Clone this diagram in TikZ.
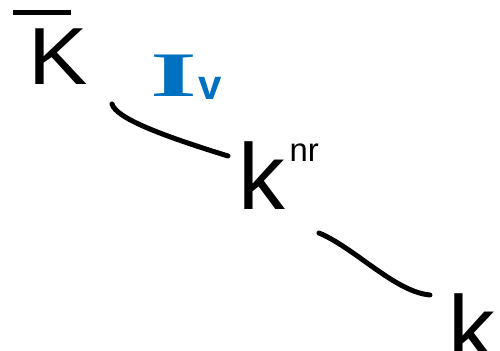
\documentclass[tikz,border=0pt]{standalone}
\usepackage{fontspec}
\usepackage{graphicx}
\setmainfont{Liberation Sans}
\newfontfamily\serifI{Liberation Serif}
\definecolor{inkblue}{RGB}{0,112,192}
\tikzset{
  pen/.style={line width=2.5pt, line cap=round, line join=round, black},
  lbl/.style={inner sep=0pt, outer sep=0pt, anchor=base west},
}
\begin{document}
\begin{tikzpicture}[x=0.5pt, y=-0.5pt]
\useasboundingbox (0,0) rectangle (500,351);
% field names
\node[lbl] (Kb) at (28,85) {\fontsize{40.5}{40}\selectfont
  \makebox[0pt][l]{\kern-0.18em\raisebox{0.86em}{\rule{0.71em}{0.065em}}}\scalebox{1.1}[1]{K}};
\node[lbl] (knr) at (239,210) {\fontsize{46.8}{46}\selectfont k\kern0.04em\raisebox{24pt}{\fontsize{16.4}{16}\selectfont nr}};
\node[lbl] (k) at (449,362) {\fontsize{46.8}{46}\selectfont k};
% inertia label
\node[lbl, text=inkblue] (Iv) at (150,97) {\fontsize{31.7}{31}\selectfont{\serifI\bfseries\scalebox{1.9}[1]{I}}\kern0.02em\raisebox{-1.5pt}{\fontsize{21}{21}\selectfont\bfseries v}};
% connectors
\coordinate (a1) at (112,104);
\coordinate (a2) at (228,156);
\coordinate (b1) at (319,233);
\coordinate (b2) at (430,295);
\draw[pen] (a1) .. controls (116,118) and (160,135) .. (a2);
\draw[pen] (b1) .. controls (355,248) and (395,292) .. (b2);
\end{tikzpicture}
\end{document}
